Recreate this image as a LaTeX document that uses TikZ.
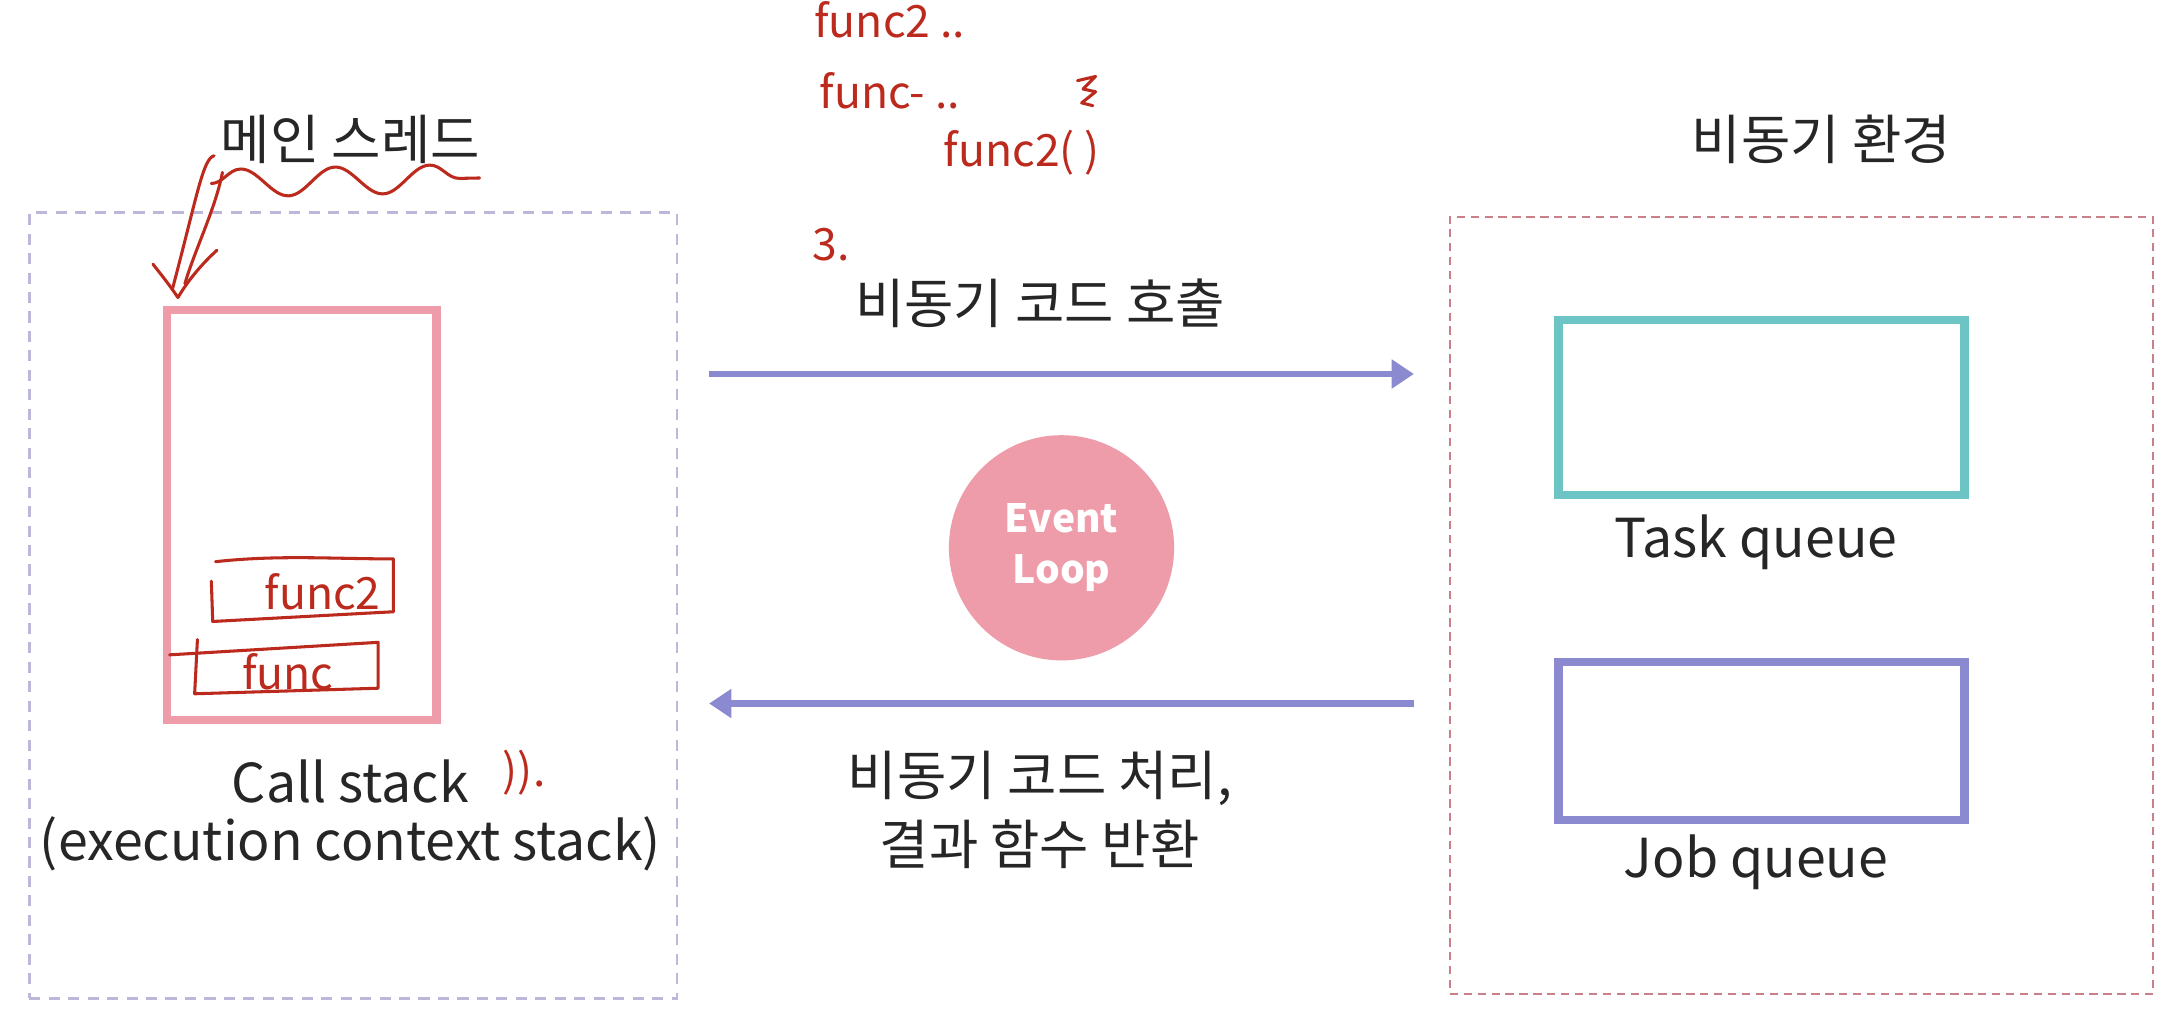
\documentclass[tikz,border=0pt]{standalone}
\usepackage{fontspec}
\setmainfont{Noto Sans CJK KR}
\usetikzlibrary{arrows.meta,decorations.pathmorphing}
\definecolor{txt}{HTML}{262626}
\definecolor{lav}{HTML}{BDB8DA}
\definecolor{rose}{HTML}{EE9BAA}
\definecolor{peri}{HTML}{8B89D0}
\definecolor{teal}{HTML}{6CC4C4}
\definecolor{dusty}{HTML}{C98089}
\definecolor{pen}{HTML}{BC2A1E}
\begin{document}
\begin{tikzpicture}[x=0.5pt,y=-0.5pt,
  lbl/.style={text=txt,font=\fontsize{19.3}{23}\selectfont,inner sep=0pt},
  thinbox/.style={draw=lav,line width=1pt,dash pattern=on 4pt off 3pt,inner sep=0pt},
  envbox/.style={draw=dusty,line width=0.8pt,dash pattern=on 3pt off 2pt,inner sep=0pt},
  qbox/.style={line width=3pt,inner sep=0pt},
  flow/.style={draw=peri,line width=2.5pt,-{Triangle[length=8pt,width=10pt]}},
  ink/.style={draw=pen,line width=1.1pt,line cap=round,line join=round},
  hand/.style={text=pen,font=\fontsize{16}{19}\selectfont,inner sep=0pt}]
\useasboundingbox (0,0) rectangle (1568,735);
\fill[white] (0,0) rectangle (1568,735);

% left region
\node[thinbox,minimum width=233pt,minimum height=282.5pt,anchor=north west] (mainbox) at (20,152) {};
\node[draw=rose,qbox,minimum width=97pt,minimum height=147.5pt,anchor=north west] (stack) at (117,220) {};
\node[lbl] (mainlbl) at (252,100) {메인 스레드};
\node[lbl] (calllbl) at (252,562) {Call stack};
\node[lbl] (execlbl) at (252,607) {(execution context stack)};

% right region
\node[envbox,minimum width=253pt,minimum height=279.5pt,anchor=north west] (envbox) at (1042,155) {};
\node[draw=teal,qbox,minimum width=146pt,minimum height=63pt,anchor=north west] (task) at (1118,227) {};
\node[draw=peri,qbox,minimum width=146pt,minimum height=57pt,anchor=north west] (job) at (1118,473) {};
\node[lbl] (envlbl) at (1310,100) {비동기 환경};
\node[lbl] (tasklbl) at (1263,390) {Task queue};
\node[lbl] (joblbl) at (1263,620) {Job queue};

% middle
\coordinate (c1s) at (510,269);
\coordinate (c1e) at (1017,269);
\coordinate (c2s) at (1017,506);
\coordinate (c2e) at (510,506);
\draw[flow] (c1s) -- (c1e);
\draw[flow] (c2s) -- (c2e);
\node[lbl] (calltext) at (748,218) {비동기 코드 호출};
\node[lbl] (rettext1) at (748,560) {비동기 코드 처리,};
\node[lbl] (rettext2) at (748,607) {결과 함수 반환};
\node[circle,fill=rose,minimum size=81pt,inner sep=0pt,text=white,align=center,
      font=\fontsize{14}{18.5}\selectfont\bfseries] (loop) at (763.5,394) {Event\\Loop};

% handwritten annotations
\node[hand,anchor=north] (h0) at (640,1) {func2 ..};
\node[hand] (h1) at (640,65) {func- ..};
\node[hand] (h2) at (735,110) {func2( )};
\node[hand] (h3) at (598,176) {3.};
\draw[ink] (775,58) -- (788,55) -- (779,64) -- (788,66) -- (778,74) -- (786,76);
\draw[ink,decorate,decoration={snake,segment length=34,amplitude=5}] (152,132) -- (345,128);
\draw[ink] (154,112) .. controls (146,114) and (142,140) .. (124,208);
\draw[ink] (160,124) .. controls (155,150) and (140,180) .. (133,204);
\draw[ink] (110,190) .. controls (118,200) and (124,208) .. (128,214) .. controls (135,202) and (145,190) .. (156,180);
\draw[ink] (155,404) .. controls (200,399) and (240,402) .. (283,402) -- (283,440) -- (153,447) -- (152,418);
\node[hand] (hf2) at (232,426) {func2};
\draw[ink] (122,471) -- (272,462) -- (272,495) -- (140,499) -- (142,460);
\node[hand] (hf1) at (207,483) {func};
\node[hand] (hpar) at (377,556) {)).};
\end{tikzpicture}
\end{document}
